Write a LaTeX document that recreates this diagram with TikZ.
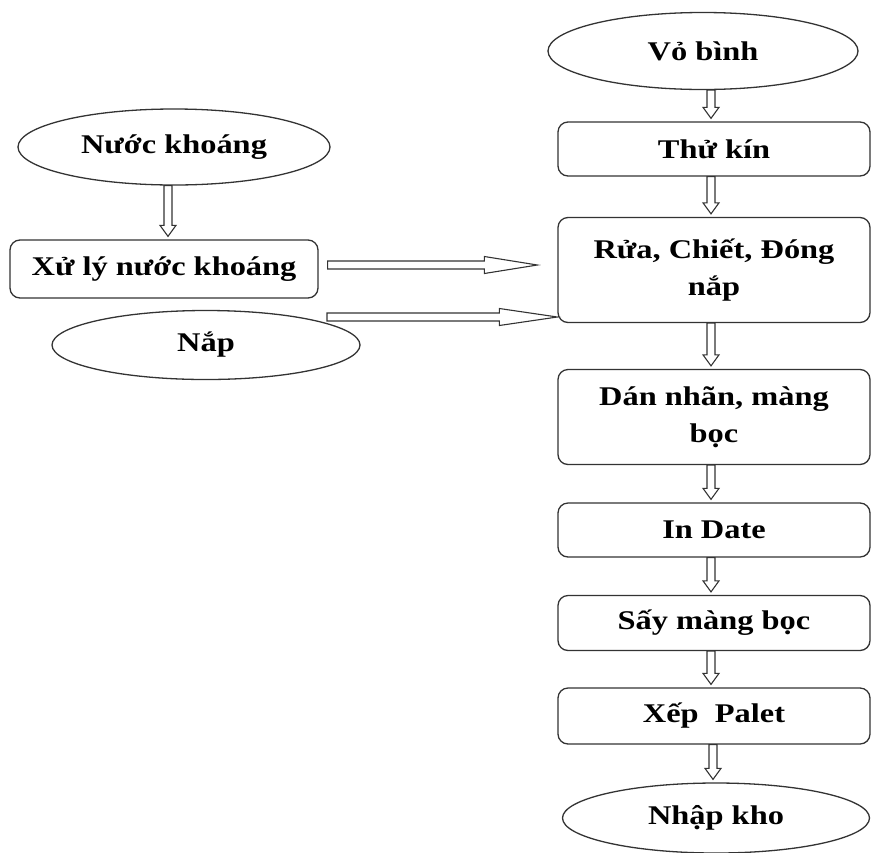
\documentclass[tikz,border=0pt]{standalone}
\usepackage{fontspec}
\newfontfamily\lbl[FakeStretch=1.2]{Liberation Serif}
\usetikzlibrary{shapes.geometric,calc}
\tikzset{
 base/.style={draw=black!80, line width=1.3pt, font=\lbl\bfseries\fontsize{27}{37}\selectfont, align=center, inner sep=0pt, text=black},
 proc/.style={base, rectangle, rounded corners=10pt, minimum width=312pt},
 term/.style={base, ellipse},
 blk/.style={draw=black!80, line width=1.1pt, fill=white, line join=miter},
}
\newcommand\varrow[3][-3pt]{%
 \draw[blk] let \p1=(#2), \p2=(#3) in
 ({\x2+(#1)-4pt},\y1) -- ({\x2+(#1)-4pt},\y2+14pt) -- ({\x2+(#1)-8pt},\y2+14pt) -- ({\x2+(#1)},\y2+3pt) -- ({\x2+(#1)+8pt},\y2+14pt) -- ({\x2+(#1)+4pt},\y2+14pt) -- ({\x2+(#1)+4pt},\y1) -- cycle;}
\newcommand\harrow[3]{%
 \draw[blk] let \p1=(#1), \p2=(#2) in
 (\x1,\y1+4pt) -- (\x2-#3,\y1+4pt) -- (\x2-#3,\y1+8.5pt) -- (\x2,\y1) -- (\x2-#3,\y1-8.5pt) -- (\x2-#3,\y1-4pt) -- (\x1,\y1-4pt) -- cycle;}
\begin{document}
\begin{tikzpicture}[x=1pt,y=-1pt]
\useasboundingbox (0,0) rectangle (872,852);
% right column
\node[term, minimum width=310pt, minimum height=77pt] (vo) at (703,51) {Vỏ bình};
\node[proc, minimum height=54pt] (thu) at (714,149) {Thử kín};
\node[proc, minimum height=105pt] (rua) at (714,270) {Rửa, Chiết, Đóng\\nắp};
\node[proc, minimum height=95pt] (dan) at (714,417) {Dán nhãn, màng\\bọc};
\node[proc, minimum height=54pt] (ind) at (714,530) {In Date};
\node[proc, minimum height=55pt] (say) at (714,623) {Sấy màng bọc};
\node[proc, minimum height=56pt] (xep) at (714,716) {Xếp\ \ Palet};
\node[term, minimum width=307pt, minimum height=70pt] (nhap) at (716,818) {Nhập kho};
% left column
\node[term, minimum width=312pt, minimum height=76pt] (nuoc) at (174,147) {Nước khoáng};
\node[proc, minimum width=308pt, minimum height=58pt] (xuly) at (164,269) {Xử lý nước khoáng};
\node[term, minimum width=308pt, minimum height=69pt] (nap) at (206,345) {Nắp};
% vertical arrows
\varrow{vo.south}{thu.north}
\varrow{thu.south}{rua.north}
\varrow{rua.south}{dan.north}
\varrow{dan.south}{ind.north}
\varrow{ind.south}{say.north}
\varrow{say.south}{xep.north}
\varrow[-3pt]{xep.south}{nhap.north}
\varrow[4pt]{nuoc.south}{xuly.north}
% horizontal arrows
\coordinate (a1s) at ([shift={(9,-4)}]xuly.east);
\coordinate (a1e) at ($(a1s -| rua.west)+(-20,0)$);
\coordinate (a2s) at (327,317);
\coordinate (a2e) at (a2s -| rua.west);
\harrow{a1s}{a1e}{53pt}
\harrow{a2s}{a2e}{58pt}
\end{tikzpicture}
\end{document}
